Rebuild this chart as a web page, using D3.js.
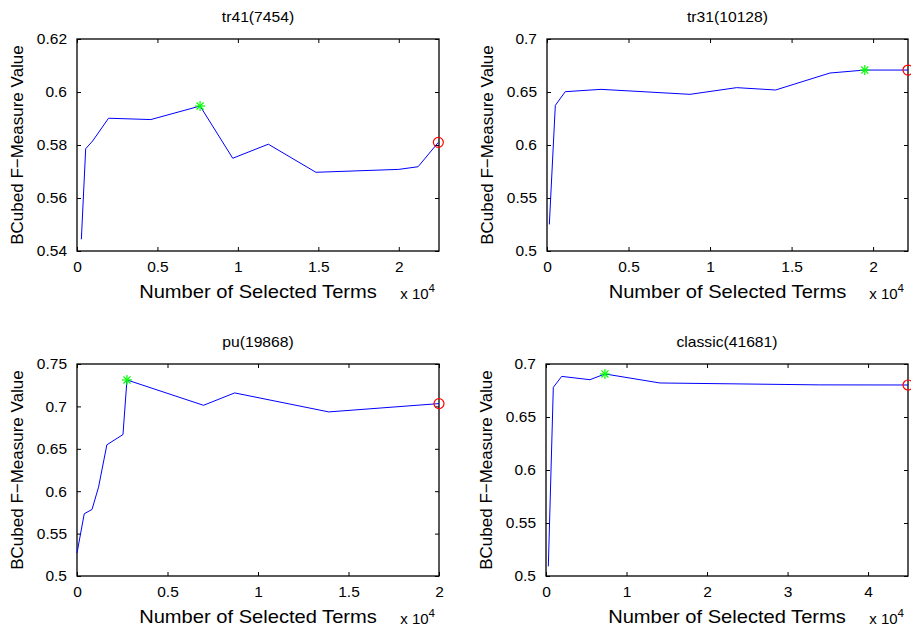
<!DOCTYPE html>
<html><head><meta charset="utf-8">
<script src="https://cdn.jsdelivr.net/npm/d3@7"></script>
<style>
html,body{margin:0;padding:0;background:#fff;}
svg text{font-family:"Liberation Sans",Arial,sans-serif;fill:#000;}
</style></head>
<body>
<svg id="chart" width="911" height="628"></svg>
<script>
// ---------- data ----------
const titles = ["tr41(7454)", "tr31(10128)", "pu(19868)", "classic(41681)"];

const tr41X = [270, 540, 970, 1960, 4590, 7650, 9680, 11890, 14850, 20000, 21200, 22460];
const tr41Y = [0.5444, 0.5786, 0.5815, 0.5901, 0.5896, 0.5947, 0.5750, 0.5803, 0.5697, 0.5708, 0.5718, 0.5810];

const tr31X = [143, 510, 1120, 3310, 8770, 11630, 14020, 17350, 19490, 22140];
const tr31Y = [0.5251, 0.6374, 0.6503, 0.6525, 0.6478, 0.6541, 0.6519, 0.6679, 0.6707, 0.6707];

const puX = [0, 400, 830, 1190, 1650, 2540, 2760, 6990, 8710, 13910, 20000];
const puY = [0.5271, 0.5734, 0.5785, 0.6048, 0.6547, 0.6668, 0.7312, 0.7013, 0.7159, 0.6935, 0.7033];

const classicX = [290, 910, 1950, 5460, 7320, 14150, 34000, 44960];
const classicY = [0.5091, 0.6780, 0.6883, 0.6852, 0.6906, 0.6821, 0.6803, 0.6802];

// best (star) index; circle marks the last point
const bestIdx = [5, 8, 6, 4];

const xMax = [22500, 22140, 20000, 44960];
const yDomains = [[0.54, 0.62], [0.5, 0.7], [0.5, 0.75], [0.5, 0.7]];

const xTicks = [[0, 5000, 10000, 15000, 20000], [0, 5000, 10000, 15000, 20000],
                [0, 5000, 10000, 15000, 20000], [0, 10000, 20000, 30000, 40000]];
const yTicks = [[0.54, 0.56, 0.58, 0.6, 0.62], [0.5, 0.55, 0.6, 0.65, 0.7],
                [0.5, 0.55, 0.6, 0.65, 0.7, 0.75], [0.5, 0.55, 0.6, 0.65, 0.7]];

const xLabel = "Number of Selected Terms";
const yLabel = "BCubed F\u2212Measure Value";

// ---------- layout ----------
const boxes = [
  {x: 77, y: 39, w: 362, h: 212},
  {x: 547, y: 39, w: 361, h: 212},
  {x: 77, y: 364, w: 362, h: 212},
  {x: 546, y: 364, w: 362, h: 212}
];
const seriesX = [tr41X, tr31X, puX, classicX];
const seriesY = [tr41Y, tr31Y, puY, classicY];

const svg = d3.select("#chart");
const fmtX = v => d3.format("")(+(v / 1e4).toFixed(2));
const fmtY = v => d3.format("")(+v.toFixed(3));

boxes.forEach((b, i) => {
  const g = svg.append("g").attr("transform", `translate(${b.x},${b.y})`);
  const x = d3.scaleLinear().domain([0, xMax[i]]).range([0, b.w]);
  const y = d3.scaleLinear().domain(yDomains[i]).range([b.h, 0]);

  const tk = 4;
  const axB = g.append("g").attr("transform", `translate(0,${b.h})`)
    .call(d3.axisBottom(x).tickValues(xTicks[i]).tickFormat(fmtX).tickSizeInner(-tk).tickSizeOuter(0).tickPadding(10));
  const axT = g.append("g")
    .call(d3.axisTop(x).tickValues(xTicks[i]).tickFormat("").tickSizeInner(-tk).tickSizeOuter(0));
  const axL = g.append("g")
    .call(d3.axisLeft(y).tickValues(yTicks[i]).tickFormat(fmtY).tickSizeInner(-tk).tickSizeOuter(0).tickPadding(10));
  const axR = g.append("g").attr("transform", `translate(${b.w},0)`)
    .call(d3.axisRight(y).tickValues(yTicks[i]).tickFormat("").tickSizeInner(-tk).tickSizeOuter(0));
  [axB, axT, axL, axR].forEach(a => {
    a.select(".domain").remove();
    a.selectAll("line").attr("stroke", "#000").attr("stroke-width", 1);
    a.selectAll("text").attr("font-size", 15.5).attr("fill", "#000")
      .style("font-family", '"Liberation Sans",Arial,sans-serif');
  });

  g.append("rect").attr("x", 0).attr("y", 0).attr("width", b.w).attr("height", b.h)
    .attr("fill", "none").attr("stroke", "#000").attr("stroke-width", 1.3);

  const pts = seriesX[i].map((v, k) => [v, seriesY[i][k]]);
  const line = d3.line().x(d => x(d[0])).y(d => y(d[1]));
  g.append("path").datum(pts).attr("d", line)
    .attr("fill", "none").attr("stroke", "#0000ff").attr("stroke-width", 1);

  // star marker at best
  const bp = pts[bestIdx[i]];
  const sx = x(bp[0]), sy = y(bp[1]), r = 5;
  const star = g.append("g").attr("transform", `translate(${sx},${sy})`)
    .attr("stroke", "#00ff00").attr("stroke-width", 1.2);
  [0, 45, 90, 135].forEach(a => {
    const rad = a * Math.PI / 180;
    star.append("line").attr("x1", -r * Math.cos(rad)).attr("y1", -r * Math.sin(rad))
      .attr("x2", r * Math.cos(rad)).attr("y2", r * Math.sin(rad));
  });

  // circle at last
  const lp = pts[pts.length - 1];
  g.append("circle").attr("cx", x(lp[0])).attr("cy", y(lp[1])).attr("r", 5)
    .attr("fill", "none").attr("stroke", "#ff0000").attr("stroke-width", 1.2);

  // title
  g.append("text").attr("transform", `translate(${b.w / 2},${-17}) scale(1.12,1)`)
    .attr("text-anchor", "middle").attr("font-size", 14).text(titles[i]);

  // x label
  g.append("text").attr("transform", `translate(${b.w / 2},${b.h + 47}) scale(1.15,1)`)
    .attr("text-anchor", "middle").attr("font-size", 17.5).text(xLabel);

  // y label
  g.append("text").attr("transform", `translate(${-54},${b.h / 2}) rotate(-90)`)
    .attr("text-anchor", "middle").attr("font-size", 17).text(yLabel);

  // x 10^4 multiplier
  const m = g.append("text").attr("x", b.w - 4).attr("y", b.h + 48).attr("text-anchor", "end")
    .attr("font-size", 15);
  m.append("tspan").text("x 10");
  m.append("tspan").attr("dy", -7).attr("font-size", 11.5).text("4");
});
</script>
</body></html>
